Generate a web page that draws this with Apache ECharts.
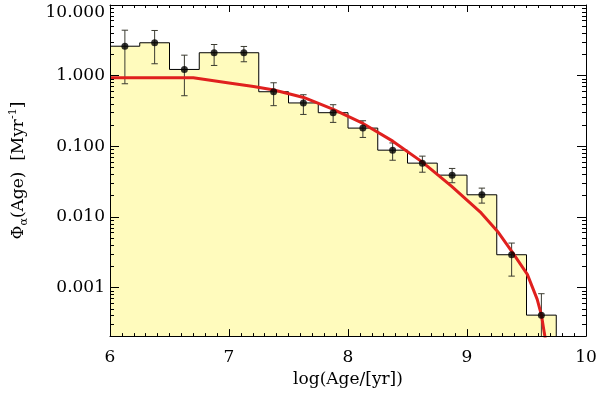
<!DOCTYPE html>
<html><head><meta charset="utf-8">
<script src="https://cdn.jsdelivr.net/npm/echarts@6/dist/echarts.min.js"></script>
<style>html,body{margin:0;padding:0;background:#fff}#c{width:600px;height:393px}</style>
</head><body><div id="c"></div>
<script>
// Histogram bins (left edges, width 0.25) and heights
const binEdges = [6.00, 6.25, 6.50, 6.75, 7.00, 7.25, 7.50, 7.75, 8.00, 8.25, 8.50, 8.75, 9.00, 9.25, 9.50];
const binEnd = 9.75;
const binValues = [2.61, 2.92, 1.224, 2.11, 2.11, 0.592, 0.411, 0.299, 0.181, 0.0882, 0.0578, 0.0391, 0.0206, 0.00292, 0.000408];
// Data points with error bars
const pointX = [6.125, 6.375, 6.625, 6.875, 7.125, 7.375, 7.625, 7.875, 8.125, 8.375, 8.625, 8.875, 9.125, 9.375, 9.625];
const pointY = [2.61, 2.92, 1.224, 2.11, 2.11, 0.592, 0.411, 0.299, 0.181, 0.0882, 0.0578, 0.0391, 0.0206, 0.00292, 0.000408];
const errHigh = [4.40, 4.36, 1.95, 2.76, 2.59, 0.793, 0.537, 0.388, 0.230, 0.1116, 0.0726, 0.0486, 0.0256, 0.00427, 0.00082];
const errLow  = [0.768, 1.474, 0.520, 1.394, 1.573, 0.376, 0.2825, 0.218, 0.1335, 0.0635, 0.0430, 0.0305, 0.0157, 0.001455, 0.00001];
// Red model curve
const curveX = [6.00, 6.70, 7.00, 7.206, 7.378, 7.627, 7.877, 8.126, 8.376, 8.625, 8.869, 9.119, 9.257, 9.382, 9.507, 9.59, 9.626, 9.645, 9.665];
const curveY = [0.934, 0.934, 0.788, 0.703, 0.6275, 0.4915, 0.3323, 0.2107, 0.1183, 0.0597, 0.02732, 0.0114, 0.00624, 0.003149, 0.001538, 0.000681, 0.000404, 0.000256, 0.00016];
// Axes
const xTicks = [6, 7, 8, 9, 10];
const yTickValues = [0.001, 0.01, 0.1, 1, 10];
const yTickLabels = ['0.001', '0.010', '0.100', '1.000', '10.000'];
const Y_MIN = 2.06e-4, Y_MAX = 10.0;

const L = Math.log10;
const yMin = L(Y_MIN), yMax = L(Y_MAX);
const majorY = yTickValues.map(L);
const minorY = [];
for (let d = -4; d <= 1; d++) for (let k = 2; k <= 9; k++) {
  const v = L(k * Math.pow(10, d));
  if (v > yMin && v < yMax) minorY.push(v);
}
const FONT = 'DejaVu Serif';

const stepData = binEdges.map((x, i) => [x, L(binValues[i])]);
stepData.push([binEnd, yMin]);

const xBase = {
  type: 'value', min: 6, max: 10, interval: 1, z: 10,
  axisLine: { show: true, onZero: false, lineStyle: { color: '#000', width: 1 } },
  axisTick: { show: true, inside: true, length: 7, lineStyle: { color: '#000' } },
  minorTick: { show: true, splitNumber: 10, length: 3, lineStyle: { color: '#000' } },
  splitLine: { show: false }, minorSplitLine: { show: false }
};
function yAx(pos, ticks, len, labels) {
  return {
    type: 'value', position: pos, min: yMin, max: yMax, z: 10,
    axisLine: { show: true, onZero: false, lineStyle: { color: '#000', width: 1 } },
    axisTick: { show: true, inside: true, length: len, customValues: ticks, lineStyle: { color: '#000' } },
    axisLabel: labels ? {
      show: true, customValues: majorY, margin: 5,
      fontFamily: FONT, fontSize: 17, color: '#000',
      formatter: v => {
        const i = majorY.findIndex(m => Math.abs(m - v) < 1e-6);
        if (i < 0) return '';
        return i === majorY.length - 1 ? '{top|' + yTickLabels[i] + '}' : yTickLabels[i];
      },
      rich: { top: { fontFamily: FONT, fontSize: 17, color: '#000', padding: [15, 0, 0, 0] } }
    } : { show: false },
    splitLine: { show: false }
  };
}
const yMain = yAx('left', majorY, 9, true);
yMain.name = '{t|Φ}{s|α}{t|(Age)  [Myr}{p|-1}{t|]}';
yMain.nameLocation = 'middle';
yMain.nameGap = 80;
yMain.nameTextStyle = {
  rich: {
    t: { fontFamily: FONT, fontSize: 17, color: '#000', lineHeight: 22, verticalAlign: 'middle' },
    s: { fontFamily: FONT, fontSize: 11, color: '#000', lineHeight: 22, verticalAlign: 'bottom' },
    p: { fontFamily: FONT, fontSize: 11, color: '#000', lineHeight: 22, verticalAlign: 'top' }
  }
};

const option = {
  animation: false,
  backgroundColor: '#fff',
  grid: { left: 105, right: 14, top: 5, bottom: 56, containLabel: false },
  xAxis: [
    Object.assign({}, xBase, {
      position: 'bottom',
      name: 'log(Age/[yr])', nameLocation: 'middle', nameGap: 29,
      nameTextStyle: { fontFamily: FONT, fontSize: 17, color: '#000' },
      axisLabel: { show: true, margin: 13, fontFamily: FONT, fontSize: 17, color: '#000',
        formatter: v => xTicks.includes(v) ? String(v) : '' }
    }),
    Object.assign({}, xBase, { position: 'top', axisLabel: { show: false } })
  ],
  yAxis: [
    yMain,
    Object.assign(yAx('left', minorY, 4, false), { axisLine: { show: false } }),
    yAx('right', majorY, 9, false),
    Object.assign(yAx('right', minorY, 4, false), { axisLine: { show: false } })
  ],
  series: [
    {
      type: 'line', step: 'end', data: stepData, showSymbol: false, symbol: 'none',
      lineStyle: { color: '#000', width: 1 },
      areaStyle: { color: '#fffbbd', opacity: 1, origin: 'start' },
      z: 1
    },
    {
      type: 'custom', clip: true, z: 3,
      data: pointX.map((x, i) => [x, L(errLow[i]), L(errHigh[i])]),
      encode: { x: 0, y: [1, 2] },
      renderItem: (params, api) => {
        const x = api.value(0);
        const p1 = api.coord([x, api.value(2)]);
        const p2 = api.coord([x, api.value(1)]);
        const w = 3.2, st = { stroke: '#3b3b30', lineWidth: 1 };
        return { type: 'group', children: [
          { type: 'line', shape: { x1: p1[0], y1: p1[1], x2: p2[0], y2: p2[1] }, style: st },
          { type: 'line', shape: { x1: p1[0] - w, y1: p1[1], x2: p1[0] + w, y2: p1[1] }, style: st },
          { type: 'line', shape: { x1: p2[0] - w, y1: p2[1], x2: p2[0] + w, y2: p2[1] }, style: st }
        ] };
      }
    },
    {
      type: 'line', data: curveX.map((x, i) => [x, L(curveY[i])]),
      smooth: false, symbol: 'none', clip: true,
      lineStyle: { color: '#e0201e', width: 3, join: 'round' }, z: 5
    },
    {
      type: 'scatter', data: pointX.map((x, i) => [x, L(pointY[i])]),
      symbol: 'circle', symbolSize: 7, itemStyle: { color: '#000' }, z: 6
    }
  ]
};
const chart = echarts.init(document.getElementById('c'), null, { renderer: 'canvas' });
chart.setOption(option);
</script>
</body></html>
